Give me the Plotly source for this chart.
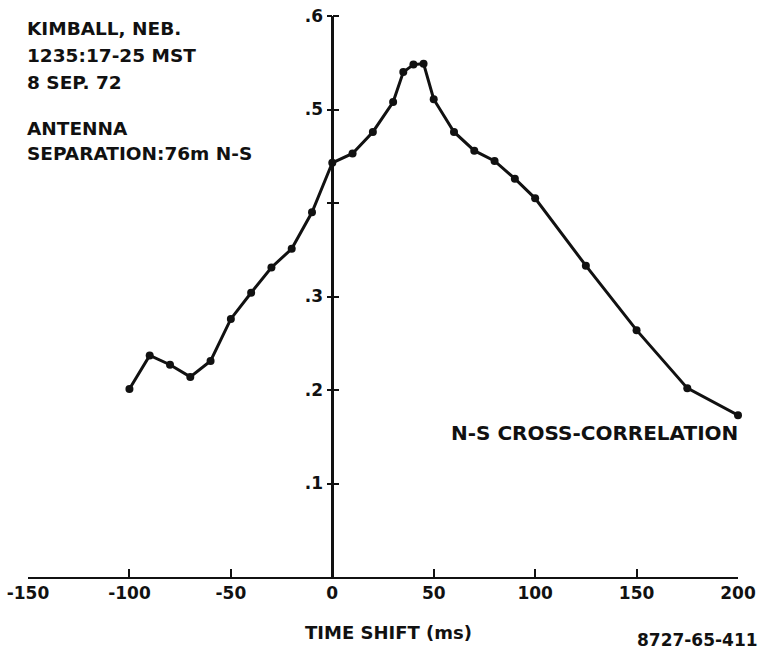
import plotly.graph_objects as go

# Data
time_shift = [-100, -90, -80, -70, -60, -50, -40, -30, -20, -10,
              0, 10, 20, 30, 35, 40, 45, 50,
              60, 70, 80, 90, 100, 125, 150, 175, 200]
correlation = [0.201, 0.237, 0.227, 0.214, 0.231, 0.276, 0.304, 0.331, 0.351, 0.390,
               0.443, 0.453, 0.476, 0.508, 0.540, 0.548, 0.549, 0.511,
               0.476, 0.456, 0.445, 0.426, 0.405, 0.333, 0.264, 0.202, 0.173]

x_tick_vals = [-150, -100, -50, 0, 50, 100, 150, 200]
x_tick_text = ["-150", "-100", "-50", "0", "50", "100", "150", "200"]
y_tick_vals = [0.1, 0.2, 0.3, 0.4, 0.5, 0.6]
y_tick_text = [".1", ".2", ".3", "", ".5", ".6"]

header_lines = ["KIMBALL, NEB.", "1235:17-25 MST", "8 SEP. 72"]
antenna_lines = ["ANTENNA", "SEPARATION:76m N-S"]
series_label = "N-S CROSS-CORRELATION"
x_title = "TIME SHIFT (ms)"
figure_id = "8727-65-411"

FONT = "DejaVu Sans"
BLACK = "#111111"

fig = go.Figure()
fig.add_trace(go.Scatter(
    x=time_shift, y=correlation, mode="lines+markers",
    line=dict(color=BLACK, width=3),
    marker=dict(color=BLACK, size=8),
    cliponaxis=False, showlegend=False, hoverinfo="x+y",
))
# empty trace to activate the mirrored tick axis (ticks crossing the y axis)
fig.add_trace(go.Scatter(x=[None], y=[None], yaxis="y2", showlegend=False,
                         hoverinfo="skip"))

x_min, x_max = -150, 200
ypos = (0 - x_min) / (x_max - x_min)

tick_font = dict(family=FONT, size=17, color=BLACK, weight="bold")

fig.update_layout(
    width=761, height=650,
    margin=dict(l=28, r=23, t=16, b=73, autoexpand=False),
    paper_bgcolor="white", plot_bgcolor="white",
    font=dict(family=FONT, color=BLACK, size=17),
    xaxis=dict(
        range=[x_min, x_max], domain=[0, 1], automargin=False,
        showgrid=False, zeroline=False,
        showline=True, linecolor=BLACK, linewidth=2,
        ticks="inside", ticklen=8, tickwidth=2, tickcolor=BLACK,
        tickvals=x_tick_vals, ticktext=x_tick_text,
        tickfont=tick_font, fixedrange=True,
    ),
    yaxis=dict(
        range=[0, 0.6], anchor="free", position=ypos, automargin=False,
        showgrid=False, zeroline=False,
        showline=True, linecolor=BLACK, linewidth=2.5,
        ticks="outside", ticklen=5, tickwidth=2, tickcolor=BLACK,
        tickvals=y_tick_vals, ticktext=y_tick_text,
        tickfont=tick_font, fixedrange=True,
    ),
    yaxis2=dict(
        range=[0, 0.6], anchor="free", position=ypos, overlaying="y",
        automargin=False,
        side="right", showgrid=False, zeroline=False, showline=False,
        ticks="outside", ticklen=6, tickwidth=2, tickcolor=BLACK,
        tickvals=y_tick_vals, showticklabels=False, fixedrange=True,
    ),
)

header_font = dict(family=FONT, size=18.5, color=BLACK, weight="bold")
annotations = []
for txt, yy in zip(header_lines + antenna_lines,
                   [0.587, 0.558, 0.529, 0.480, 0.453]):
    annotations.append(dict(x=x_min, y=yy, xref="x", yref="y", text=txt,
                            showarrow=False, xanchor="left", yanchor="middle",
                            xshift=-3, font=header_font))
annotations.append(dict(x=x_max, y=0.1545, xref="x", yref="y", text=series_label,
                        showarrow=False, xanchor="right", yanchor="middle",
                        xshift=2,
                        font=dict(family=FONT, size=20, color=BLACK, weight="bold")))
annotations.append(dict(x=0.5, y=0, xref="paper", yref="paper", text=x_title,
                        showarrow=False, xanchor="center", yanchor="middle",
                        xshift=5, yshift=-55,
                        font=dict(family=FONT, size=18, color=BLACK, weight="bold")))
annotations.append(dict(x=1.0, y=0, xref="paper", yref="paper", text=figure_id,
                        showarrow=False, xanchor="right", yanchor="middle",
                        xshift=22, yshift=-63,
                        font=dict(family=FONT, size=17, color=BLACK, weight="bold")))
fig.update_layout(annotations=annotations)

fig.write_html("out.html")
